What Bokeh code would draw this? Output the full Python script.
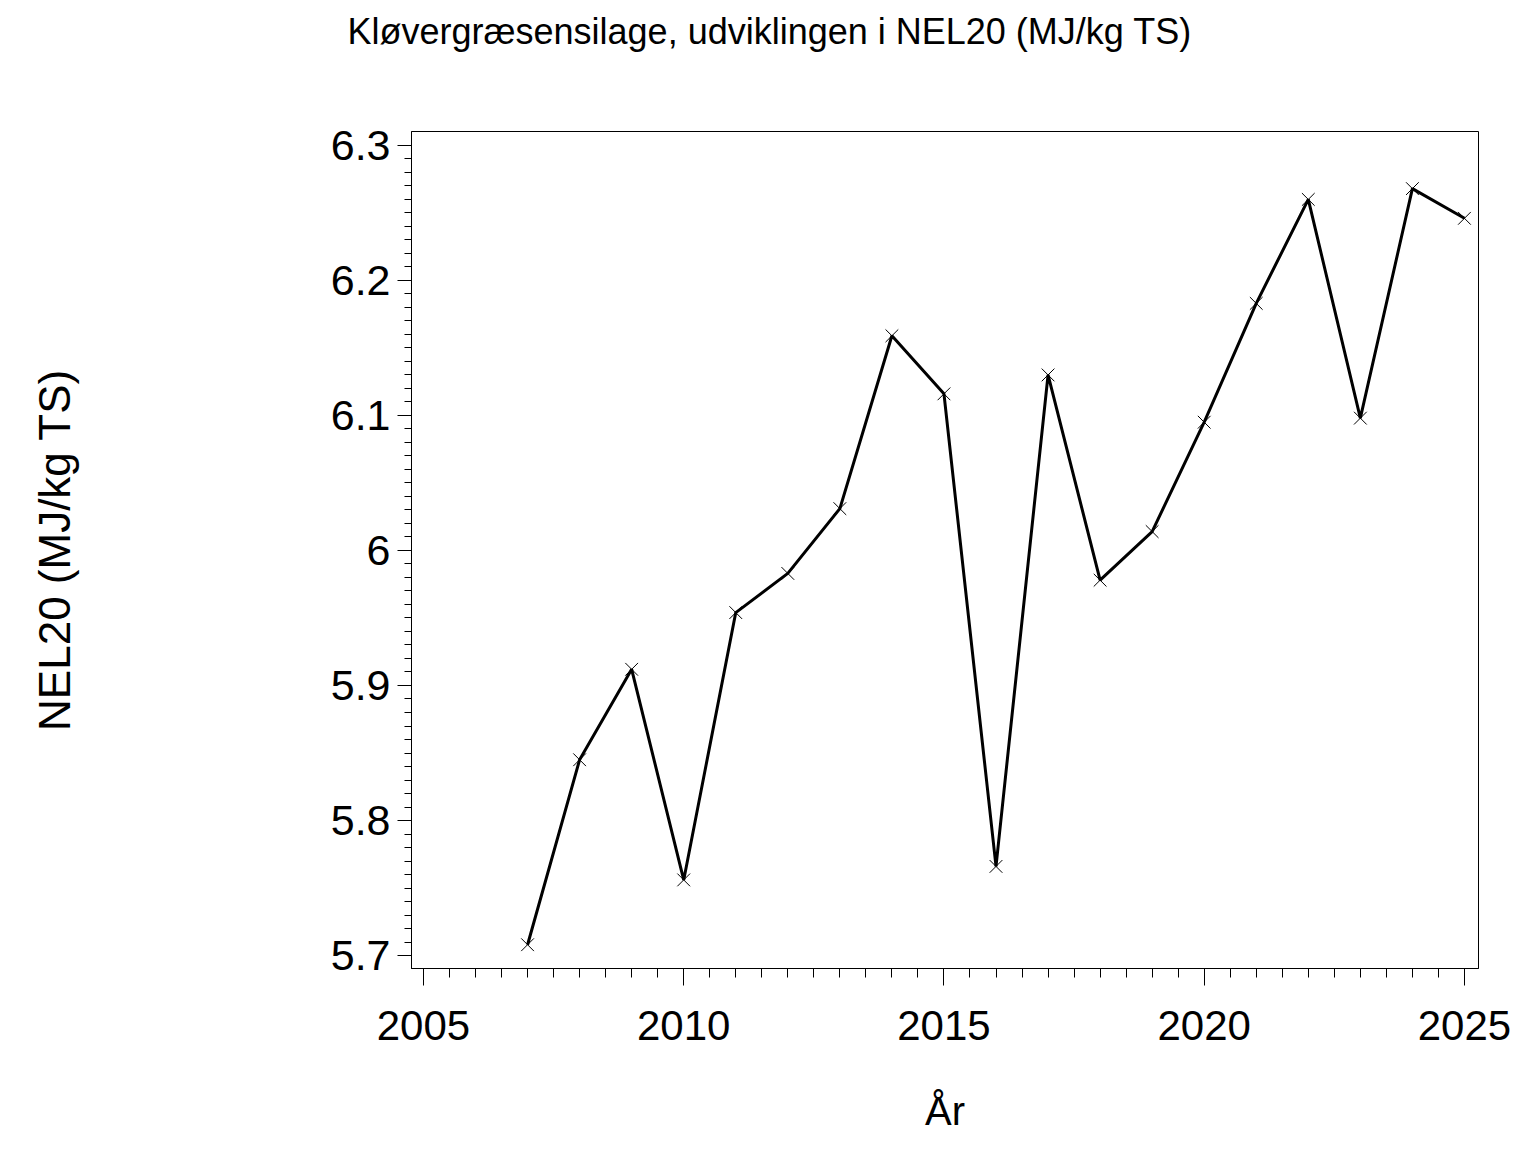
from bokeh.plotting import figure
from bokeh.models import Range1d, FixedTicker, Title
from bokeh.embed import file_html
from bokeh.resources import INLINE
import numpy as np

years = [2007, 2008, 2009, 2010, 2011, 2012, 2013, 2014, 2015, 2016,
         2017, 2018, 2019, 2020, 2021, 2022, 2023, 2024, 2025]
nel20 = [5.708, 5.845, 5.912, 5.756, 5.954, 5.983, 6.031, 6.159, 6.116, 5.766,
         6.130, 5.978, 6.014, 6.095, 6.183, 6.260, 6.098, 6.268, 6.246]

x_ticks = [2005, 2010, 2015, 2020, 2025]
x_tick_labels = ["2005", "2010", "2015", "2020", "2025"]
y_ticks = [5.7, 5.8, 5.9, 6.0, 6.1, 6.2, 6.3]
y_tick_labels = ["5.7", "5.8", "5.9", "6", "6.1", "6.2", "6.3"]

title_text = "Kløvergræsensilage, udviklingen i NEL20 (MJ/kg TS)"
x_label = "År"
y_label = "NEL20 (MJ/kg TS)"

FONT = "Liberation Sans"

p = figure(width=1520, height=1136, output_backend="svg", toolbar_location=None,
           x_range=Range1d(2004.77, 2025.27), y_range=Range1d(5.6904, 6.3103),
           min_border_left=411, min_border_right=42, min_border_bottom=168,
           min_border_top=0, title=None)

# spacer between frame and title (nearest the frame)
p.add_layout(Title(text=" ", text_font_size="1px", standoff=69), "above")
p.add_layout(Title(text=title_text, align="left", offset=-64,
                   text_font=FONT, text_font_size="36px", text_font_style="normal",
                   text_color="black", standoff=16), "above")

p.line(years, nel20, line_color="black", line_width=3)
p.scatter(years, nel20, marker="x", size=18, line_color="black", line_width=1)

p.grid.visible = False
p.outline_line_color = "black"
p.outline_line_width = 1
p.background_fill_color = "white"
p.border_fill_color = "white"

xa = p.xaxis[0]
xa.ticker = FixedTicker(ticks=x_ticks, minor_ticks=list(np.arange(2005, 2025.01, 0.5)))
xa.major_label_overrides = {float(t): l for t, l in zip(x_ticks, x_tick_labels)}
xa.axis_label = x_label
ya = p.yaxis[0]
ya.ticker = FixedTicker(ticks=y_ticks, minor_ticks=list(np.round(np.arange(5.7, 6.3001, 0.01), 2)))
ya.major_label_overrides = {float(t): l for t, l in zip(y_ticks, y_tick_labels)}
ya.axis_label = y_label

for ax in (xa, ya):
    ax.axis_line_color = "black"
    ax.major_tick_line_color = "black"
    ax.minor_tick_line_color = "black"
    ax.major_tick_in = 0
    ax.minor_tick_in = 0
    ax.major_label_text_font = FONT
    ax.major_label_text_color = "black"
    ax.axis_label_text_font = FONT
    ax.axis_label_text_font_style = "normal"
    ax.axis_label_text_color = "black"

xa.major_tick_out = 17
xa.minor_tick_out = 9
xa.major_label_text_font_size = "42px"
xa.major_label_standoff = 25
xa.axis_label_text_font_size = "40px"
xa.axis_label_standoff = 46

ya.major_tick_out = 14
ya.minor_tick_out = 7
ya.major_label_text_font_size = "43px"
ya.major_label_standoff = 7
ya.axis_label_text_font_size = "44px"
ya.axis_label_standoff = 249

open("out.html", "w").write(file_html(p, INLINE))
